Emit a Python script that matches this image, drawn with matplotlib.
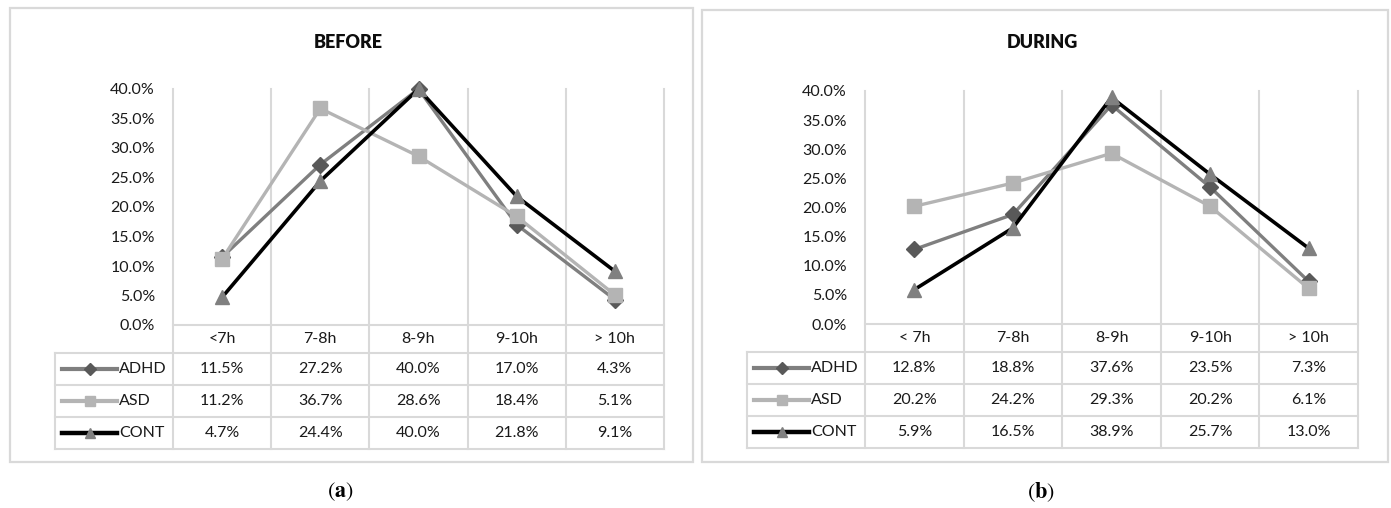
import numpy as np
import matplotlib
matplotlib.use("Agg")
import matplotlib.pyplot as plt
import matplotlib.transforms as mtransforms
from matplotlib.patches import Rectangle
from matplotlib.lines import Line2D

plt.rcParams['font.family'] = ['Lato', 'DejaVu Sans']
plt.rcParams['mathtext.fontset'] = 'stix'

# data (percent)
cats_before = ["<7h", "7-8h", "8-9h", "9-10h", "> 10h"]
cats_during = ["< 7h", "7-8h", "8-9h", "9-10h", "> 10h"]
groups = ["ADHD", "ASD", "CONT"]

adhd_before = [11.5, 27.2, 40.0, 17.0, 4.3]
asd_before = [11.2, 36.7, 28.6, 18.4, 5.1]
cont_before = [4.7, 24.4, 40.0, 21.8, 9.1]

adhd_during = [12.8, 18.8, 37.6, 23.5, 7.3]
asd_during = [20.2, 24.2, 29.3, 20.2, 6.1]
cont_during = [5.9, 16.5, 38.9, 25.7, 13.0]

styles = {
    "ADHD": dict(color="#7f7f7f", marker="D", mfc="#595959", mec="#595959", ms=8, lw=2.4),
    "ASD": dict(color="#b4b4b4", marker="s", mfc="#b4b4b4", mec="#b4b4b4", ms=10, lw=2.4),
    "CONT": dict(color="#000000", marker="^", mfc="#808080", mec="#808080", ms=10, lw=2.6),
}
legend_ms = {"ADHD": 6, "ASD": 7.5, "CONT": 7.5}

W, H = 1391, 508
GRID = "#d9d9d9"
TXT = "#1a1a1a"
FS = 11.5
fig = plt.figure(figsize=(W / 100, H / 100), dpi=100)


def fig_rect(x0, y0, x1, y1):
    return [x0 / W, 1 - y1 / H, (x1 - x0) / W, (y1 - y0) / H]


def draw_panel(box, plot_box, title, title_x, cats, series, caption, cap_x):
    # outer chart border
    bx0, by0, bx1, by1 = box
    fig.patches.append(Rectangle((bx0 / W, 1 - by1 / H), (bx1 - bx0) / W, (by1 - by0) / H,
                                 transform=fig.transFigure, fill=False, ec=GRID, lw=1.6))
    fig.text(title_x / W, 1 - 43 / H, title, ha="center", va="center",
             fontsize=13, fontweight="heavy", color="#0d0d0d")
    fig.text(cap_x / W, 1 - 492 / H, caption, ha="center", va="center", fontsize=16)

    px0, py0, px1, py1 = plot_box
    ax = fig.add_axes(fig_rect(px0, py0, px1, py1))
    ax.set_xlim(-0.5, 4.5)
    ax.set_ylim(0, 0.4)
    for s in ax.spines.values():
        s.set_visible(False)
    ax.set_xticks([])
    ax.set_yticks(np.arange(0, 0.401, 0.05))
    ax.set_yticklabels([f"{v * 100:.1f}%" for v in np.arange(0, 0.401, 0.05)])
    ax.tick_params(axis="y", length=0, pad=13, labelsize=FS, labelcolor=TXT)

    h = py1 - py0
    cw = (px1 - px0) / 5.0
    tr = mtransforms.blended_transform_factory(ax.transData, ax.transAxes)
    rows = [0, 28, 60, 92, 124]
    ry = [-r / h for r in rows]
    leg_left = -0.5 - 118 / cw

    # vertical grid / table lines
    for xv in np.arange(-0.5, 4.6, 1.0):
        ax.plot([xv, xv], [1, ry[-1]], color=GRID, lw=1.5, transform=tr, clip_on=False, zorder=1)
    ax.plot([leg_left, leg_left], [ry[1], ry[-1]], color=GRID, lw=1.5, transform=tr, clip_on=False)
    # horizontal lines
    ax.plot([-0.5, 4.5], [0, 0], color=GRID, lw=1.5, transform=tr, clip_on=False)
    for yv in ry[1:]:
        ax.plot([leg_left, 4.5], [yv, yv], color=GRID, lw=1.5, transform=tr, clip_on=False)

    # category row
    for i, c in enumerate(cats):
        ax.text(i, (ry[0] + ry[1]) / 2, c, transform=tr, ha="center", va="center",
                fontsize=FS, color=TXT)

    x = np.arange(len(cats))
    for k, name in enumerate(groups):
        vals = np.array(series[name]) / 100.0
        st = styles[name]
        ax.plot(x, vals, color=st["color"], lw=st["lw"], marker=st["marker"],
                mfc=st["mfc"], mec=st["mec"], ms=st["ms"], zorder=3 + k, clip_on=False)
        yc = (ry[k + 1] + ry[k + 2]) / 2
        for i, v in enumerate(series[name]):
            ax.text(i, yc, f"{v:.1f}%", transform=tr, ha="center", va="center",
                    fontsize=FS, color=TXT)
        # legend key
        lx0 = leg_left + 7 / cw
        lx1 = leg_left + 62 / cw
        ax.add_line(Line2D([lx0, lx1], [yc, yc], color=st["color"], lw=st["lw"] + 0.6,
                           transform=tr, clip_on=False))
        ax.add_line(Line2D([(lx0 + lx1) / 2], [yc], marker=st["marker"], mfc=st["mfc"],
                           mec=st["mec"], ms=legend_ms[name], transform=tr, clip_on=False))
        ax.text(leg_left + 64 / cw, yc, name, transform=tr, ha="left", va="center",
                fontsize=FS, color=TXT)
    return ax


draw_panel((10, 8, 693, 462), (173, 89, 664, 325), "BEFORE", 348, cats_before,
           {"ADHD": adhd_before, "ASD": asd_before, "CONT": cont_before},
           r"$(\mathbf{a})$", 340)
draw_panel((702, 10, 1388, 462), (865, 91, 1358, 324), "DURING", 1042, cats_during,
           {"ADHD": adhd_during, "ASD": asd_during, "CONT": cont_during},
           r"$(\mathbf{b})$", 1041)

fig.savefig("out.png", dpi=100, facecolor="white")
